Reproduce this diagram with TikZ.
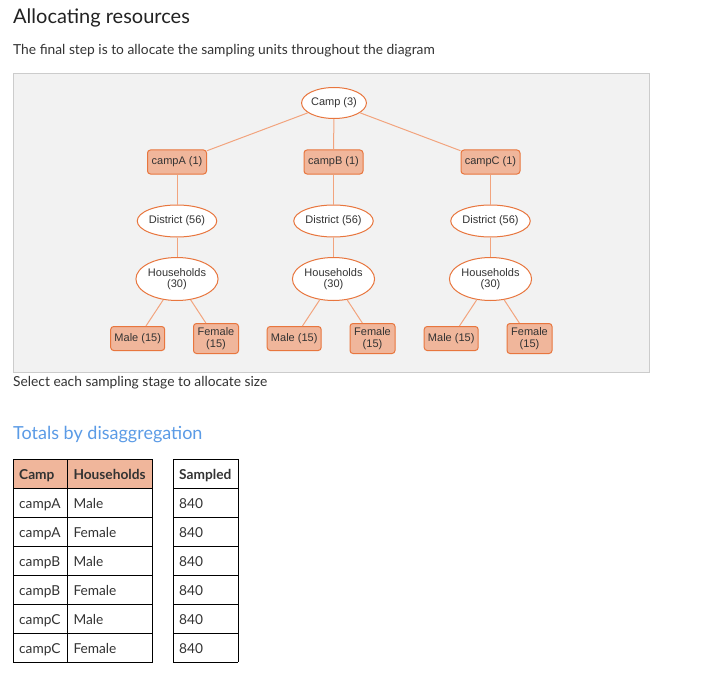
\documentclass[tikz,border=0pt]{standalone}
\usepackage{fontspec}
\setmainfont{Lato}
\newfontfamily\arialf{Liberation Sans}
\usetikzlibrary{shapes.geometric}
\definecolor{orstroke}{HTML}{E8763E}
\definecolor{orfill}{HTML}{F0B69B}
\definecolor{orline}{HTML}{F2A47E}
\definecolor{panelbg}{HTML}{F2F2F2}
\definecolor{panelbd}{HTML}{CCCCCC}
\definecolor{txt}{HTML}{333333}
\definecolor{titletxt}{HTML}{222222}
\definecolor{tblue}{HTML}{5B9BE6}
\tikzset{
  oval/.style={ellipse, draw=orstroke, fill=white, line width=1pt, inner sep=0pt,
    font=\arialf\fontsize{11}{11.5}\selectfont, text=txt, align=center},
  unitbox/.style={rectangle, rounded corners=3pt, draw=orstroke, fill=orfill, line width=1pt,
    inner sep=0pt, font=\arialf\fontsize{11}{11.5}\selectfont, text=txt, align=center},
  conn/.style={draw=orline, line width=1pt},
  pagetext/.style={anchor=base west, inner sep=0pt, text=txt, font=\fontsize{13.8}{16}\selectfont},
  celltext/.style={anchor=base west, inner sep=0pt, text=txt, font=\fontsize{13.7}{16}\selectfont},
  grid/.style={draw=black, line width=1pt},
}
\begin{document}
\begin{tikzpicture}[x=1pt,y=-1pt]
\useasboundingbox (0,0) rectangle (728,674);
\fill[white] (0,0) rectangle (728,674);
% headings
\node[anchor=base west, inner sep=0pt, text=titletxt, font=\fontsize{20}{24}\selectfont] (title) at (13,23.3) {Allocating resources};
\node[pagetext] (sub) at (13,55) {The final step is to allocate the sampling units throughout the diagram};
% panel
\draw[draw=panelbd, fill=panelbg, line width=1pt] (13.5,73.5) rectangle (649,372);
% nodes
\node[oval, minimum width=62pt, minimum height=31pt] (camp) at (334,103) {Camp (3)};
\foreach \n/\x in {A/177, B/333.5, C/490.5}{
  \node[unitbox, minimum width=59pt, minimum height=24pt] (c\n) at (\x,162) {camp\n\ (1)};
  \node[oval, minimum width=72pt, minimum height=32pt] (d\n) at (\x,221) {District (56)};
  \node[oval, minimum width=81pt, minimum height=43pt] (h\n) at (\x,279) {Households\\(30)};
  \node[unitbox, minimum width=54pt, minimum height=24pt] (m\n) at (\x-39.3,338.5) {Male (15)};
  \node[unitbox, minimum width=45pt, minimum height=30pt] (f\n) at (\x+39,338.5) {Female\\(15)};
  \draw[conn] (camp) -- (c\n);
  \draw[conn] (c\n) -- (d\n);
  \draw[conn] (d\n) -- (h\n);
  \draw[conn] (h\n) -- (m\n);
  \draw[conn] (h\n) -- (f\n);
}
\node[pagetext] (sel) at (13,386.5) {Select each sampling stage to allocate size};
\node[anchor=base west, inner sep=0pt, text=tblue, font=\fontsize{18}{22}\selectfont] (tot) at (13,439.3) {Totals by disaggregation};
% tables
\fill[orfill] (13.3,459.3) rectangle (152.7,488.3);
\foreach \i in {0,...,7}{
  \draw[grid] (13.3,459.3+29*\i) -- (152.7,459.3+29*\i);
  \draw[grid] (173.3,459.3+29*\i) -- (238.3,459.3+29*\i);
}
\draw[grid] (13.3,459.3) -- (13.3,662.3);
\draw[grid] (67.3,459.3) -- (67.3,662.3);
\draw[grid] (152.7,459.3) -- (152.7,662.3);
\draw[grid] (173.3,459.3) -- (173.3,662.3);
\draw[grid] (238.3,459.3) -- (238.3,662.3);
\node[celltext, font=\bfseries\fontsize{13.7}{16}\selectfont] (hc1) at (19,479.3) {Camp};
\node[celltext, font=\bfseries\fontsize{13.7}{16}\selectfont] (hc2) at (73.3,479.3) {Households};
\node[celltext, font=\bfseries\fontsize{13.7}{16}\selectfont] (hc3) at (179,479.3) {Sampled};
\foreach \i/\c/\g in {1/campA/Male, 2/campA/Female, 3/campB/Male, 4/campB/Female, 5/campC/Male, 6/campC/Female}{
  \node[celltext] (r\i c1) at (19,479.3+29*\i) {\c};
  \node[celltext] (r\i c2) at (73.3,479.3+29*\i) {\g};
  \node[celltext] (r\i c3) at (179,479.3+29*\i) {840};
}
\end{tikzpicture}
\end{document}
